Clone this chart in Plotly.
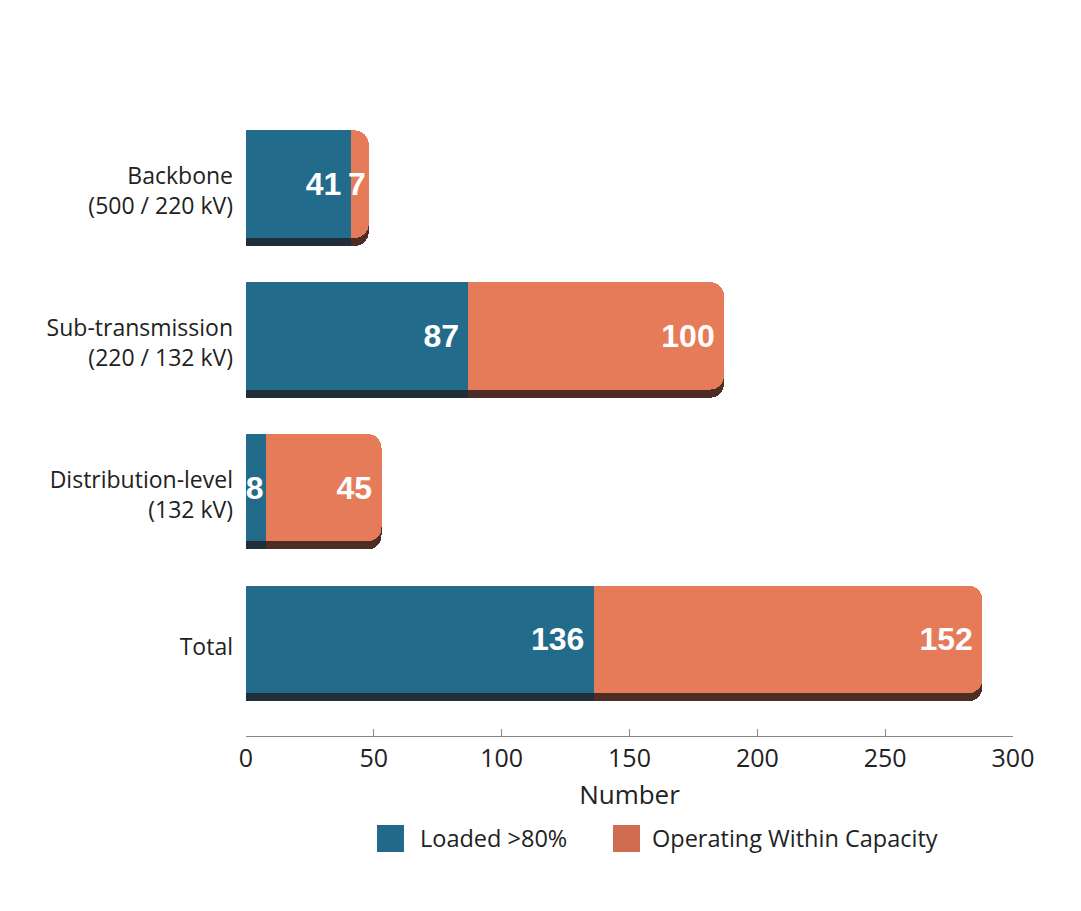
import plotly.graph_objects as go

# Data
categories = ["Backbone<br>(500 / 220 kV)", "Sub-transmission<br>(220 / 132 kV)",
              "Distribution-level<br>(132 kV)", "Total"]
positions = [3, 2, 1, 0]
loaded = [41, 87, 8, 136]
within = [7, 100, 45, 152]
series_names = ["Loaded >80%", "Operating Within Capacity"]

BLUE = "#236b8a"
ORANGE = "#e67b59"
BLUE_SHADOW = "#1f2e39"
ORANGE_SHADOW = "#4e2d27"
LEGEND_COLORS = ["#236a8a", "#d06c4f"]

FIG_W, FIG_H = 1081, 911
PAGE_OFFSET = 8  # the html body margin
MARGIN = dict(l=238, r=76, t=92, b=183)
BAR_W = 0.708
Y_RANGE = [-0.636, 3.554]
SHADOW_SHIFT = 0.053  # ~8 px drop shadow

value_font = dict(family="Liberation Sans", size=32, color="white", weight="bold")


def label_templates(vals):
        # a thin trailing space keeps labels off the segment edge,
        # skipped for slim segments where there is no room for it
        return ["%{x}\u2009" if v >= 20 else "%{x}" for v in vals]


fig = go.Figure()

# shadows sit on the base y axis, drawn first
for vals, col in [(loaded, BLUE_SHADOW), (within, ORANGE_SHADOW)]:
        fig.add_trace(go.Bar(
                x=vals, y=positions, orientation="h", width=BAR_W,
                marker=dict(color=col, line=dict(width=0)),
                yaxis="y", hoverinfo="skip", showlegend=False,
        ))

# main rounded bars
for vals, col, name in [(loaded, BLUE, series_names[0]), (within, ORANGE, series_names[1])]:
        fig.add_trace(go.Bar(
                x=vals, y=positions, orientation="h", width=BAR_W, name=name,
                marker=dict(color=col, line=dict(width=0)),
                yaxis="y2", showlegend=False,
        ))

# value labels on a transparent square-cornered copy, so the rounded end
# does not push the numbers out of their segment
for vals in [loaded, within]:
        fig.add_trace(go.Bar(
                x=vals, y=positions, orientation="h", width=BAR_W,
                marker=dict(color="rgba(0,0,0,0)", line=dict(width=0), cornerradius=0),
                texttemplate=label_templates(vals), textposition="inside",
                insidetextanchor="end", textfont=value_font, constraintext="none",
                cliponaxis=False, yaxis="y3", hoverinfo="skip", showlegend=False,
        ))

# hand-made legend with large square swatches (page pixel positions -> paper)
plot_w = FIG_W - MARGIN["l"] - MARGIN["r"]
plot_h = FIG_H - MARGIN["t"] - MARGIN["b"]


def px_x(px):
        return (px - PAGE_OFFSET - MARGIN["l"]) / plot_w


def px_y(py):
        return (FIG_H - MARGIN["b"] - (py - PAGE_OFFSET)) / plot_h


legend_items = [(377, 418), (613, 650)]
for (sx, tx), name, col in zip(legend_items, series_names, LEGEND_COLORS):
        fig.add_shape(type="rect", xref="paper", yref="paper",
                      x0=px_x(sx), x1=px_x(sx + 27), y0=px_y(852), y1=px_y(825),
                      fillcolor=col, line=dict(width=0))
        fig.add_annotation(text=name, xref="paper", yref="paper",
                           x=px_x(tx), y=px_y(838), xanchor="left", yanchor="middle",
                           showarrow=False, font=dict(family="Open Sans", size=23.5, color="#222"))

hidden_y = dict(range=Y_RANGE, overlaying="y", showticklabels=False,
                showgrid=False, zeroline=False, showline=False)

fig.update_layout(
        width=FIG_W, height=FIG_H, margin=MARGIN,
        barmode="stack", barcornerradius=14,
        plot_bgcolor="white", paper_bgcolor="white",
        font=dict(family="Open Sans", color="#222"),
        xaxis=dict(range=[0, 300], tickvals=[0, 50, 100, 150, 200, 250, 300],
                   showgrid=False, zeroline=False, showline=True, linecolor="#888", linewidth=1,
                   ticks="inside", ticklen=7, tickcolor="#888",
                   tickfont=dict(size=25, color="#222"),
                   title=dict(text="Number", font=dict(size=26, color="#222"), standoff=12)),
        yaxis=dict(range=[Y_RANGE[0] + SHADOW_SHIFT, Y_RANGE[1] + SHADOW_SHIFT],
                   showticklabels=False, showgrid=False, zeroline=False, showline=False),
        yaxis2=dict(range=Y_RANGE, overlaying="y", side="left",
                    tickvals=positions, ticktext=categories,
                    tickfont=dict(size=23, color="#222"), ticks="",
                    ticklabelstandoff=12, ticklabelshift=7,
                    showgrid=False, zeroline=False, showline=False),
        yaxis3=hidden_y,
)

fig.write_html("out.html")
